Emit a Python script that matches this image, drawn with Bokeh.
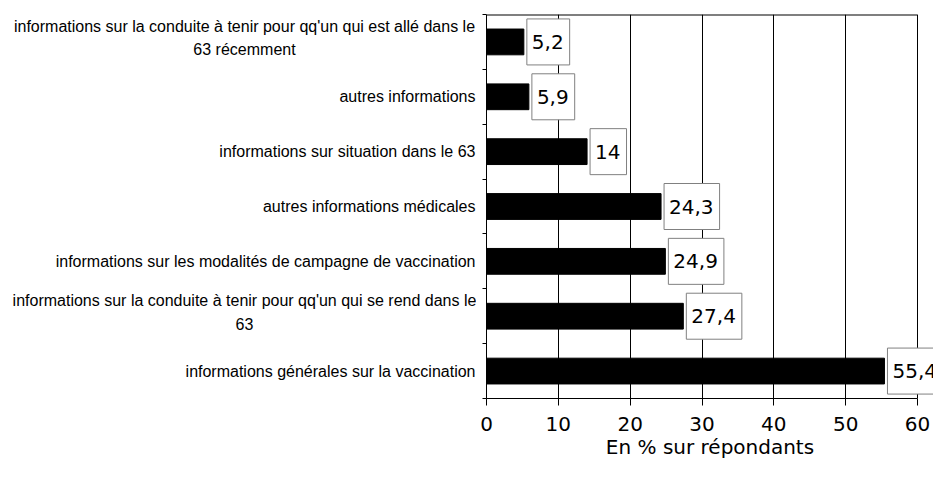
from bokeh.plotting import figure
from bokeh.layouts import row
from bokeh.models import Range1d, FixedTicker, Label
from bokeh.core.properties import value
from bokeh.embed import file_html
from bokeh.resources import INLINE

categories = [
    "informations sur la conduite à tenir pour qq'un qui est allé dans le\n63 récemment",
    "autres informations",
    "informations sur situation dans le 63",
    "autres informations médicales",
    "informations sur les modalités de campagne de vaccination",
    "informations sur la conduite à tenir pour qq'un qui se rend dans le\n63",
    "informations générales sur la vaccination",
]
values = [5.2, 5.9, 14, 24.3, 24.9, 27.4, 55.4]
x_ticks = [0, 10, 20, 30, 40, 50, 60]
x_title = "En % sur répondants"

n = len(categories)
ycenters = [n - 0.5 - i for i in range(n)]
x_max = x_ticks[-1]

TOP = 14
BOTTOM = 66
LEFT_W = 476
H = 464
MAIN_W = 933 - LEFT_W
FRAME_W = MAIN_W - 10
PX_PER_UNIT = 431 / x_max          # axis 0..60 spans 431 px
x_end = FRAME_W / PX_PER_UNIT       # room on the right for the last value box

# ---------- left panel: category labels ----------
pl = figure(width=LEFT_W, height=H, output_backend="svg", toolbar_location=None,
            x_range=Range1d(0, LEFT_W), y_range=Range1d(0, n),
            x_axis_type=None, y_axis_type=None,
            min_border_left=0, min_border_right=0,
            min_border_top=TOP, min_border_bottom=BOTTOM)
pl.outline_line_color = None
pl.background_fill_color = "white"
pl.border_fill_color = "white"

single = [(c, y) for c, y in zip(categories, ycenters) if "\n" not in c]
double = [(c, y) for c, y in zip(categories, ycenters) if "\n" in c]

pl.text(x=[LEFT_W - 1] * len(single), y=[y for _, y in single],
        text=[c for c, _ in single],
        text_align="right", text_baseline="middle",
        text_font=value("Liberation Sans"), text_font_size="16px",
        text_color="black")
pl.text(x=[244] * len(double), y=[y for _, y in double],
        text=[c for c, _ in double], y_offset=-4,
        text_align="center", text_baseline="middle",
        text_font=value("Liberation Sans"), text_font_size="16px",
        text_line_height=1.4, text_color="black")

# ---------- main chart ----------
p = figure(width=MAIN_W, height=H, output_backend="svg", toolbar_location=None,
           x_range=Range1d(0, x_end), y_range=Range1d(0, n),
           min_border_left=10, min_border_right=0,
           min_border_top=TOP, min_border_bottom=BOTTOM)
p.background_fill_color = "white"
p.border_fill_color = "white"
p.outline_line_color = None

p.hbar(y=ycenters, left=0, right=values, height=0.47,
       fill_color="black", line_color="black")

# top border of the plot area (0..60)
p.segment(x0=[0], x1=[x_max], y0=[n], y1=[n], line_color="black", line_width=2)

p.xaxis.ticker = FixedTicker(ticks=x_ticks)
p.xaxis.bounds = (0, x_max)
p.xaxis.major_tick_out = 7
p.xaxis.major_tick_in = 0
p.xaxis.minor_tick_out = 0
p.xaxis.minor_tick_in = 0
p.xaxis.axis_line_color = "black"
p.xaxis.major_tick_line_color = "black"
p.xaxis.major_label_text_font = "DejaVu Sans"
p.xaxis.major_label_text_font_size = "20px"
p.xaxis.major_label_text_color = "black"
p.xaxis.major_label_standoff = 11
p.xaxis.axis_label = x_title
p.xaxis.axis_label_text_font = "DejaVu Sans"
p.xaxis.axis_label_text_font_size = "20px"
p.xaxis.axis_label_text_font_style = "normal"
p.xaxis.axis_label_text_color = "black"
p.xaxis.axis_label_standoff = 1

p.yaxis.ticker = FixedTicker(ticks=list(range(n + 1)))
p.yaxis.major_label_overrides = {i: "" for i in range(n + 1)}
p.yaxis.major_label_standoff = 0
p.yaxis.major_tick_out = 4
p.yaxis.major_tick_in = 0
p.yaxis.minor_tick_out = 0
p.yaxis.minor_tick_in = 0
p.yaxis.axis_line_color = "black"
p.yaxis.major_tick_line_color = "black"

p.xgrid.ticker = FixedTicker(ticks=x_ticks)
p.xgrid.grid_line_color = "black"
p.xgrid.grid_line_width = 1
p.ygrid.grid_line_color = None

for v, yc in zip(values, ycenters):
    p.add_layout(Label(x=v, y=yc, text=f"{v:g}".replace(".", ","),
                       x_offset=3, text_align="left", text_baseline="middle",
                       text_font="DejaVu Sans", text_font_size="20px",
                       text_color="black",
                       background_fill_color="white",
                       border_line_color="#808080", border_line_width=1,
                       padding=dict(left=5, right=6, top=16, bottom=16)))

layout = row(pl, p)
open("out.html", "w").write(file_html(layout, INLINE))
